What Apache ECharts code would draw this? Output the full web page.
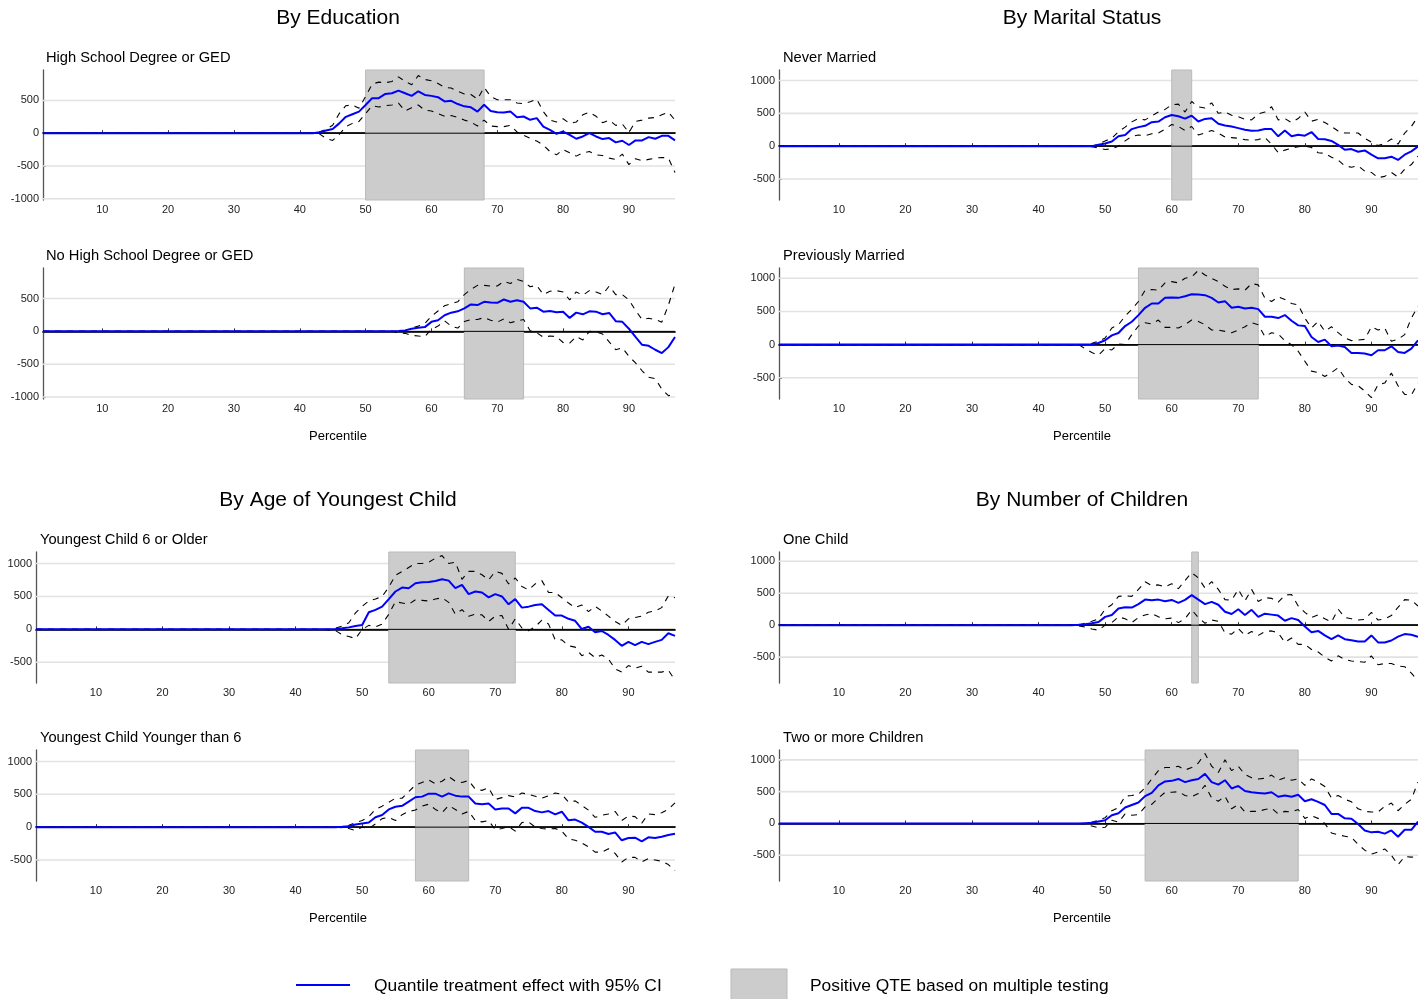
<!DOCTYPE html>
<html>
<head>
<meta charset="utf-8">
<title>Quantile treatment effects by subgroup</title>
<script src="https://cdn.jsdelivr.net/npm/echarts@6/dist/echarts.min.js"></script>
<style>
  html, body { margin: 0; padding: 0; background: #ffffff; }
  #chart { width: 1418px; height: 999px; }
</style>
</head>
<body>
<div id="chart"></div>
<script>
// ---- data -------------------------------------------------------------
const percentiles = [
  1,2,3,4,5,6,7,8,9,10,11,12,13,14,15,16,17,18,19,20,
  21,22,23,24,25,26,27,28,29,30,31,32,33,34,35,36,37,38,39,40,
  41,42,43,44,45,46,47,48,49,50,51,52,53,54,55,56,57,58,59,60,
  61,62,63,64,65,66,67,68,69,70,71,72,73,74,75,76,77,78,79,80,
  81,82,83,84,85,86,87,88,89,90,91,92,93,94,95,96,97
];
const xTickValues = [10, 20, 30, 40, 50, 60, 70, 80, 90];
const yTicksWide = [-1000, -500, 0, 500];
const yTicksTall = [-500, 0, 500, 1000];

// High School Degree or GED
const hsQte = [
  0,0,0,0,0,0,0,0,0,0, 0,0,0,0,0,0,0,0,0,0, 0,0,0,0,0,0,0,0,0,0, 0,0,0,0,0,0,0,0,0,0,
  0,0,
  15,40,65,150,250,290,330,430,535,535,
  600,610,650,610,570,640,585,570,550,485,
  495,445,410,395,330,435,340,320,315,330,
  245,255,205,230,100,50,-10,25,-25,-85,
  -50,0,-50,-90,-75,-140,-115,-180,-110,-110,
  -60,-85,-40,-40,-110
];
const hsUpper = [
  0,0,0,0,0,0,0,0,0,0, 0,0,0,0,0,0,0,0,0,0, 0,0,0,0,0,0,0,0,0,0, 0,0,0,0,0,0,0,0,0,0,
  0,0,
  20,60,120,300,420,430,380,560,750,780,
  770,790,860,790,740,880,820,800,760,700,
  690,640,600,590,520,700,560,510,510,510,
  460,450,480,520,330,200,170,220,150,170,
  280,320,260,160,200,120,140,10,180,200,
  230,240,280,320,200
];
const hsLower = [
  0,0,0,0,0,0,0,0,0,0, 0,0,0,0,0,0,0,0,0,0, 0,0,0,0,0,0,0,0,0,0, 0,0,0,0,0,0,0,0,0,0,
  0,0,
  -10,-80,-110,-20,100,150,180,300,420,400,
  420,430,460,340,390,430,350,340,300,260,
  270,240,200,170,110,200,110,100,100,120,
  20,-30,-80,-120,-180,-280,-330,-250,-300,-350,
  -300,-280,-330,-340,-380,-400,-320,-480,-390,-420,
  -400,-380,-370,-380,-600
];
const hsShade = [50, 68];

// No High School Degree or GED
const nhsQte = [
  0,0,0,0,0,0,0,0,0,0, 0,0,0,0,0,0,0,0,0,0, 0,0,0,0,0,0,0,0,0,0, 0,0,0,0,0,0,0,0,0,0,
  0,0,0,0,0,0,0,0,0,0, 0,0,0,0,
  5,15,40,55,65,145,170,245,285,305,
  350,410,400,450,440,435,485,450,475,450,
  350,360,300,310,290,300,205,285,260,305,
  300,260,280,155,145,40,-85,-205,-220,-280,
  -330,-240,-85
];
const nhsUpper = [
  0,0,0,0,0,0,0,0,0,0, 0,0,0,0,0,0,0,0,0,0, 0,0,0,0,0,0,0,0,0,0, 0,0,0,0,0,0,0,0,0,0,
  0,0,0,0,0,0,0,0,0,0, 0,0,0,0,
  0,10,50,80,120,230,310,390,420,450,
  560,640,700,700,690,690,760,730,790,760,
  680,700,560,610,620,600,480,600,550,620,
  600,560,690,560,560,480,320,180,200,180,
  140,400,720
];
const nhsLower = [
  0,0,0,0,0,0,0,0,0,0, 0,0,0,0,0,0,0,0,0,0, 0,0,0,0,0,0,0,0,0,0, 0,0,0,0,0,0,0,0,0,0,
  0,0,0,0,0,0,0,0,0,0, 0,0,0,0,
  -20,-30,-60,-70,-80,30,80,160,80,50,
  150,180,180,210,170,140,190,130,160,180,
  10,-20,-90,-70,-80,-170,-180,-80,-130,0,
  -10,-40,-160,-280,-250,-380,-480,-600,-700,-720,
  -880,-980,-960
];
const nhsShade = [65, 74];

// Never Married
const nmQte = [
  0,0,0,0,0,0,0,0,0,0, 0,0,0,0,0,0,0,0,0,0, 0,0,0,0,0,0,0,0,0,0, 0,0,0,0,0,0,0,0,0,0,
  0,0,0,0,0,0,0,
  0,20,40,70,150,170,260,290,310,365,
  375,440,475,455,420,465,375,415,425,340,
  315,300,275,250,235,240,260,260,150,240,
  150,175,160,215,110,105,80,20,-55,-45,
  -85,-65,-130,-185,-185,-160,-210,-130,-80,-5
];
const nmUpper = [
  0,0,0,0,0,0,0,0,0,0, 0,0,0,0,0,0,0,0,0,0, 0,0,0,0,0,0,0,0,0,0, 0,0,0,0,0,0,0,0,0,0,
  0,0,0,0,0,0,0,
  0,30,80,120,220,290,370,420,400,460,
  520,560,630,640,520,680,600,580,660,500,
  520,470,450,410,400,490,520,600,400,420,
  360,420,520,380,410,360,300,230,200,200,
  200,120,60,10,40,110,30,200,300,450
];
const nmLower = [
  0,0,0,0,0,0,0,0,0,0, 0,0,0,0,0,0,0,0,0,0, 0,0,0,0,0,0,0,0,0,0, 0,0,0,0,0,0,0,0,0,0,
  0,0,0,0,0,0,0,
  -10,-30,-50,-40,0,80,150,170,160,190,
  200,260,330,300,240,300,170,200,240,200,
  140,130,120,100,90,100,130,30,-100,-60,
  -30,-10,0,-20,-100,-110,-170,-210,-300,-320,
  -300,-380,-400,-480,-460,-400,-470,-350,-280,-150
];
const nmShade = [60, 63];

// Previously Married
const pmQte = [
  0,0,0,0,0,0,0,0,0,0, 0,0,0,0,0,0,0,0,0,0, 0,0,0,0,0,0,0,0,0,0, 0,0,0,0,0,0,0,0,0,0,
  0,0,0,0,0,0,
  0,
  5,25,65,140,175,280,345,445,555,620,
  620,705,710,705,730,760,755,745,705,635,
  655,555,570,545,555,535,420,420,400,445,
  360,290,280,115,40,75,-25,-15,-35,-125,
  -125,-135,-160,-85,-85,-25,-110,-125,-60,65
];
const pmUpper = [
  0,0,0,0,0,0,0,0,0,0, 0,0,0,0,0,0,0,0,0,0, 0,0,0,0,0,0,0,0,0,0, 0,0,0,0,0,0,0,0,0,0,
  0,0,0,0,0,0,
  0,
  20,50,100,250,300,430,530,650,820,830,
  820,930,950,930,1000,1020,1120,1050,1000,950,
  880,830,840,820,920,900,700,650,720,680,
  620,600,400,250,350,200,270,180,100,60,
  70,80,270,220,250,50,80,150,400,580
];
const pmLower = [
  0,0,0,0,0,0,0,0,0,0, 0,0,0,0,0,0,0,0,0,0, 0,0,0,0,0,0,0,0,0,0, 0,0,0,0,0,0,0,0,0,0,
  0,0,0,0,0,0,
  -60,
  -120,-160,-60,-80,10,0,150,280,330,310,
  370,260,260,250,300,370,350,300,220,220,
  200,180,220,270,330,300,120,180,160,60,
  0,-100,-250,-400,-420,-480,-420,-350,-500,-600,
  -620,-700,-800,-600,-580,-430,-620,-750,-760,-580
];
const pmShade = [55, 73];

// Youngest Child 6 or Older
const yoQte = [
  0,0,0,0,0,0,0,0,0,0, 0,0,0,0,0,0,0,0,0,0, 0,0,0,0,0,0,0,0,0,0, 0,0,0,0,0,0,0,0,0,0,
  0,0,0,0,
  0,
  5,15,30,50,65,260,295,345,460,575,
  635,625,700,715,720,735,760,740,625,675,
  535,575,560,485,535,500,380,460,330,345,
  370,380,295,210,210,160,130,5,40,-45,
  -25,-85,-160,-250,-190,-240,-190,-225,-190,-160,
  -60,-100
];
const yoUpper = [
  0,0,0,0,0,0,0,0,0,0, 0,0,0,0,0,0,0,0,0,0, 0,0,0,0,0,0,0,0,0,0, 0,0,0,0,0,0,0,0,0,0,
  0,0,0,0,
  0,
  20,50,100,250,350,430,460,500,640,820,
  880,940,1000,1000,1020,1080,1120,1000,1020,760,
  880,880,830,750,880,850,690,780,650,600,
  690,740,560,560,480,400,330,370,270,350,
  280,200,120,60,160,180,200,260,280,330,
  510,480
];
const yoLower = [
  0,0,0,0,0,0,0,0,0,0, 0,0,0,0,0,0,0,0,0,0, 0,0,0,0,0,0,0,0,0,0, 0,0,0,0,0,0,0,0,0,0,
  0,0,0,0,
  -10,
  -20,-80,-110,-140,0,60,40,80,230,420,
  400,380,450,440,430,460,480,410,230,300,
  200,230,220,120,200,210,0,160,20,-20,
  40,140,80,-160,-160,-250,-270,-400,-350,-430,
  -390,-450,-600,-650,-550,-590,-560,-650,-650,-650,
  -620,-770
];
const yoShade = [54, 73];

// Youngest Child Younger than 6
const yyQte = [
  0,0,0,0,0,0,0,0,0,0, 0,0,0,0,0,0,0,0,0,0, 0,0,0,0,0,0,0,0,0,0, 0,0,0,0,0,0,0,0,0,0,
  0,0,0,0,0,0,
  5,
  15,40,55,70,150,185,270,310,325,390,
  455,465,510,510,465,515,480,465,465,360,
  350,360,270,285,285,210,295,295,245,225,
  245,195,235,105,115,70,5,-70,-70,-105,
  -80,-200,-165,-160,-215,-155,-165,-145,-120,-100
];
const yyUpper = [
  0,0,0,0,0,0,0,0,0,0, 0,0,0,0,0,0,0,0,0,0, 0,0,0,0,0,0,0,0,0,0, 0,0,0,0,0,0,0,0,0,0,
  0,0,0,0,0,0,
  0,
  30,70,100,160,270,320,380,440,440,540,
  640,680,720,660,700,770,700,680,710,580,
  560,600,420,450,480,460,520,500,470,440,
  480,520,500,380,400,330,260,150,180,200,
  240,100,170,160,60,200,190,220,270,370
];
const yyLower = [
  0,0,0,0,0,0,0,0,0,0, 0,0,0,0,0,0,0,0,0,0, 0,0,0,0,0,0,0,0,0,0, 0,0,0,0,0,0,0,0,0,0,
  0,0,0,0,0,0,
  -10,
  -20,-50,0,-20,50,130,150,100,190,240,
  260,320,350,270,220,330,270,200,240,100,
  80,100,-40,-20,10,-60,70,80,0,-20,
  -30,-20,-60,-180,-200,-240,-300,-380,-380,-330,
  -400,-530,-460,-460,-530,-480,-500,-520,-570,-660
];
const yyShade = [58, 66];

// One Child
const ocQte = [
  0,0,0,0,0,0,0,0,0,0, 0,0,0,0,0,0,0,0,0,0, 0,0,0,0,0,0,0,0,0,0, 0,0,0,0,0,0,0,0,0,0,
  0,0,0,0,0,
  5,15,30,50,130,160,260,280,275,330,
  400,390,400,375,395,350,395,470,400,330,
  365,320,210,175,250,160,240,130,180,165,
  150,70,110,80,-20,-110,-90,-160,-220,-160,
  -220,-235,-255,-255,-160,-270,-270,-240,-180,-140,
  -150,-180
];
const ocUpper = [
  0,0,0,0,0,0,0,0,0,0, 0,0,0,0,0,0,0,0,0,0, 0,0,0,0,0,0,0,0,0,0, 0,0,0,0,0,0,0,0,0,0,
  0,0,0,0,0,
  0,30,60,100,250,320,450,460,450,560,
  680,620,630,600,650,570,700,820,740,580,
  680,560,400,390,560,380,560,370,430,420,
  360,470,480,300,200,120,160,100,50,250,
  120,100,80,90,200,80,100,150,280,400,
  390,300
];
const ocLower = [
  0,0,0,0,0,0,0,0,0,0, 0,0,0,0,0,0,0,0,0,0, 0,0,0,0,0,0,0,0,0,0, 0,0,0,0,0,0,0,0,0,0,
  0,0,0,0,0,
  -10,-30,-60,-80,0,40,130,100,40,120,
  160,180,130,100,110,40,100,240,120,30,
  80,60,-120,-140,-50,-160,-100,-160,-100,-90,
  -120,-270,-200,-300,-300,-380,-420,-500,-560,-480,
  -540,-560,-570,-580,-480,-620,-600,-600,-640,-650,
  -750,-870
];
const ocShade = [63, 64];

// Two or more Children
const tcQte = [
  0,0,0,0,0,0,0,0,0,0, 0,0,0,0,0,0,0,0,0,0, 0,0,0,0,0,0,0,0,0,0, 0,0,0,0,0,0,0,0,0,0,
  0,0,0,0,0,0,
  5,
  10,30,50,130,160,250,290,330,430,480,
  600,660,670,700,650,680,700,780,650,610,
  680,550,590,510,490,480,470,490,420,440,
  420,450,350,380,340,290,150,150,80,75,
  -10,-110,-140,-130,-160,-110,-210,-100,-100,30
];
const tcUpper = [
  0,0,0,0,0,0,0,0,0,0, 0,0,0,0,0,0,0,0,0,0, 0,0,0,0,0,0,0,0,0,0, 0,0,0,0,0,0,0,0,0,0,
  0,0,0,0,0,0,
  0,
  20,50,90,200,250,430,440,460,560,700,
  830,880,880,900,840,880,950,1100,900,800,
  1000,830,900,770,720,700,710,760,680,720,
  680,700,600,700,650,580,400,440,380,340,
  230,190,180,180,270,320,200,300,380,650
];
const tcLower = [
  0,0,0,0,0,0,0,0,0,0, 0,0,0,0,0,0,0,0,0,0, 0,0,0,0,0,0,0,0,0,0, 0,0,0,0,0,0,0,0,0,0,
  0,0,0,0,0,0,
  -10,
  -40,-70,-60,50,20,150,130,140,260,300,
  400,490,490,500,440,420,470,600,400,350,
  430,230,300,180,190,190,220,240,150,190,
  180,220,80,120,80,0,-150,-180,-200,-220,
  -330,-420,-480,-450,-400,-500,-650,-520,-530,-520
];
const tcShade = [56, 79];

// ---- panel definitions -------------------------------------------------
const panels = [
  { name: 'High School Degree or GED',    qte: hsQte,  upper: hsUpper,  lower: hsLower,  shade: hsShade,  yMin: -1020, yMax: 965,  yTicks: yTicksWide },
  { name: 'No High School Degree or GED', qte: nhsQte, upper: nhsUpper, lower: nhsLower, shade: nhsShade, yMin: -1030, yMax: 965,  yTicks: yTicksWide },
  { name: 'Never Married',                qte: nmQte,  upper: nmUpper,  lower: nmLower,  shade: nmShade,  yMin: -820,  yMax: 1160, yTicks: yTicksTall },
  { name: 'Previously Married',           qte: pmQte,  upper: pmUpper,  lower: pmLower,  shade: pmShade,  yMin: -820,  yMax: 1155, yTicks: yTicksTall },
  { name: 'Youngest Child 6 or Older',    qte: yoQte,  upper: yoUpper,  lower: yoLower,  shade: yoShade,  yMin: -815,  yMax: 1175, yTicks: yTicksTall },
  { name: 'Youngest Child Younger than 6',qte: yyQte,  upper: yyUpper,  lower: yyLower,  shade: yyShade,  yMin: -820,  yMax: 1175, yTicks: yTicksTall },
  { name: 'One Child',                    qte: ocQte,  upper: ocUpper,  lower: ocLower,  shade: ocShade,  yMin: -905,  yMax: 1145, yTicks: yTicksTall },
  { name: 'Two or more Children',         qte: tcQte,  upper: tcUpper,  lower: tcLower,  shade: tcShade,  yMin: -905,  yMax: 1155, yTicks: yTicksTall }
];

const groupTitles = [
  { text: 'By Education',             x: 338,  y: 18 },
  { text: 'By Marital Status',        x: 1082, y: 18 },
  { text: 'By Age of Youngest Child', x: 338,  y: 500 },
  { text: 'By Number of Children',    x: 1082, y: 500 }
];
const xAxisTitle = 'Percentile';
const legendLineText = 'Quantile treatment effect with 95% CI';
const legendAreaText = 'Positive QTE based on multiple testing';

// ---- layout ------------------------------------------------------------
const gridBoxes = [
  { left: 43,  top: 70,  width: 632, height: 130 },
  { left: 43,  top: 268, width: 632, height: 131 },
  { left: 779, top: 70,  width: 639, height: 130 },
  { left: 779, top: 268, width: 639, height: 131 },
  { left: 36,  top: 552, width: 639, height: 131 },
  { left: 36,  top: 750, width: 639, height: 131 },
  { left: 779, top: 552, width: 639, height: 131 },
  { left: 779, top: 750, width: 639, height: 131 }
];
const panelTitlePos = [[46, 58], [46, 256], [783, 58], [783, 256], [40, 540], [40, 738], [783, 540], [783, 738]];
const axisTitlePos = [[338, 436], [1082, 436], [338, 918], [1082, 918]];

const FONT = '"Liberation Sans", Arial, Helvetica, sans-serif';

panels.forEach(p => {
  [p.qte, p.upper, p.lower].forEach(a => {
    if (a.length !== percentiles.length) throw new Error(p.name + ': length ' + a.length);
  });
});

const toPairs = arr => percentiles.map((x, k) => [x, arr[k]]);
const xFirst = percentiles[0];
const xLast = percentiles[percentiles.length - 1];

const grids = [], xAxes = [], yAxes = [], series = [];

panels.forEach((p, i) => {
  grids.push(Object.assign({ containLabel: false, outerBoundsMode: 'none' }, gridBoxes[i]));

  xAxes.push({
    type: 'value', gridIndex: i, min: xFirst, max: xLast,
    axisLine: { show: true, lineStyle: { color: '#333333', width: 1.8 } },
    axisTick: { show: true, inside: true, length: 3, customValues: xTickValues, lineStyle: { color: '#333333' } },
    axisLabel: { customValues: xTickValues, fontSize: 11, color: '#222', margin: 4, fontFamily: FONT },
    splitLine: { show: false }
  });

  yAxes.push({
    type: 'value', gridIndex: i, min: p.yMin, max: p.yMax,
    axisLine: { show: true, lineStyle: { color: '#555555', width: 1.3 } },
    axisTick: { show: true, inside: true, length: 3, customValues: p.yTicks, lineStyle: { color: '#444444' } },
    axisLabel: { customValues: p.yTicks, fontSize: 11, color: '#222', margin: 4, fontFamily: FONT,
                 formatter: v => String(v) },
    splitLine: { show: false }
  });

  // horizontal reference lines at the labelled values
  series.push({
    type: 'custom', xAxisIndex: i, yAxisIndex: i, z: 1, silent: true, animation: false,
    data: p.yTicks.filter(v => v !== 0).map(v => [xFirst, v]),
    renderItem: (params, api) => {
      const cs = params.coordSys;
      const y = api.coord([api.value(0), api.value(1)])[1];
      return { type: 'line', shape: { x1: cs.x, y1: y, x2: cs.x + cs.width, y2: y },
               style: { stroke: '#e2e2e2', lineWidth: 1.6 } };
    }
  });

  // percentile range with a positive QTE under multiple testing
  series.push({
    type: 'custom', xAxisIndex: i, yAxisIndex: i, z: 2, silent: true, animation: false,
    data: [p.shade],
    renderItem: (params, api) => {
      const a = api.coord([api.value(0), p.yMax]);
      const b = api.coord([api.value(1), p.yMin]);
      return { type: 'rect', shape: { x: a[0], y: a[1], width: b[0] - a[0], height: b[1] - a[1] },
               style: { fill: '#cccccc', stroke: '#b9b9b9', lineWidth: 1 } };
    }
  });

  // zero line
  series.push({
    type: 'line', xAxisIndex: i, yAxisIndex: i, z: 3, silent: true, animation: false,
    data: [[xFirst, 0], [xLast, 0]], symbol: 'none',
    lineStyle: { color: '#000000', width: 1 }
  });

  // 95% confidence band
  [p.upper, p.lower].forEach(band => {
    series.push({
      type: 'line', xAxisIndex: i, yAxisIndex: i, z: 4, silent: true, animation: false,
      data: toPairs(band), symbol: 'none',
      lineStyle: { color: '#000000', width: 1.1, type: [6, 6] }
    });
  });

  // quantile treatment effect
  series.push({
    type: 'line', xAxisIndex: i, yAxisIndex: i, z: 5, silent: true, animation: false,
    data: toPairs(p.qte), symbol: 'none',
    lineStyle: { color: '#0000ff', width: 2 }
  });
});

// ---- text and legend ---------------------------------------------------
const graphics = [];
groupTitles.forEach(t => graphics.push({
  type: 'text', x: t.x, y: t.y, silent: true,
  style: { text: t.text, fontSize: 21, fontFamily: FONT, fill: '#000', align: 'center', verticalAlign: 'middle' }
}));
panels.forEach((p, i) => graphics.push({
  type: 'text', x: panelTitlePos[i][0], y: panelTitlePos[i][1], silent: true,
  style: { text: p.name, fontSize: 14.7, fontFamily: FONT, fill: '#000', align: 'left', verticalAlign: 'middle' }
}));
axisTitlePos.forEach(pos => graphics.push({
  type: 'text', x: pos[0], y: pos[1], silent: true,
  style: { text: xAxisTitle, fontSize: 13, fontFamily: FONT, fill: '#000', align: 'center', verticalAlign: 'middle' }
}));
graphics.push({
  type: 'line', silent: true, shape: { x1: 296, y1: 985, x2: 350, y2: 985 },
  style: { stroke: '#0000ff', lineWidth: 2 }
});
graphics.push({
  type: 'text', x: 374, y: 986, silent: true,
  style: { text: legendLineText, fontSize: 17.4, fontFamily: FONT, fill: '#000', align: 'left', verticalAlign: 'middle' }
});
graphics.push({
  type: 'rect', silent: true, shape: { x: 731, y: 969, width: 56, height: 34 },
  style: { fill: '#cccccc', stroke: '#b9b9b9', lineWidth: 1 }
});
graphics.push({
  type: 'text', x: 810, y: 986, silent: true,
  style: { text: legendAreaText, fontSize: 17.4, fontFamily: FONT, fill: '#000', align: 'left', verticalAlign: 'middle' }
});

const chart = echarts.init(document.getElementById('chart'), null, { renderer: 'canvas' });
chart.setOption({
  backgroundColor: '#ffffff',
  animation: false,
  textStyle: { fontFamily: FONT },
  grid: grids,
  xAxis: xAxes,
  yAxis: yAxes,
  series: series,
  graphic: graphics
});
</script>
</body>
</html>
